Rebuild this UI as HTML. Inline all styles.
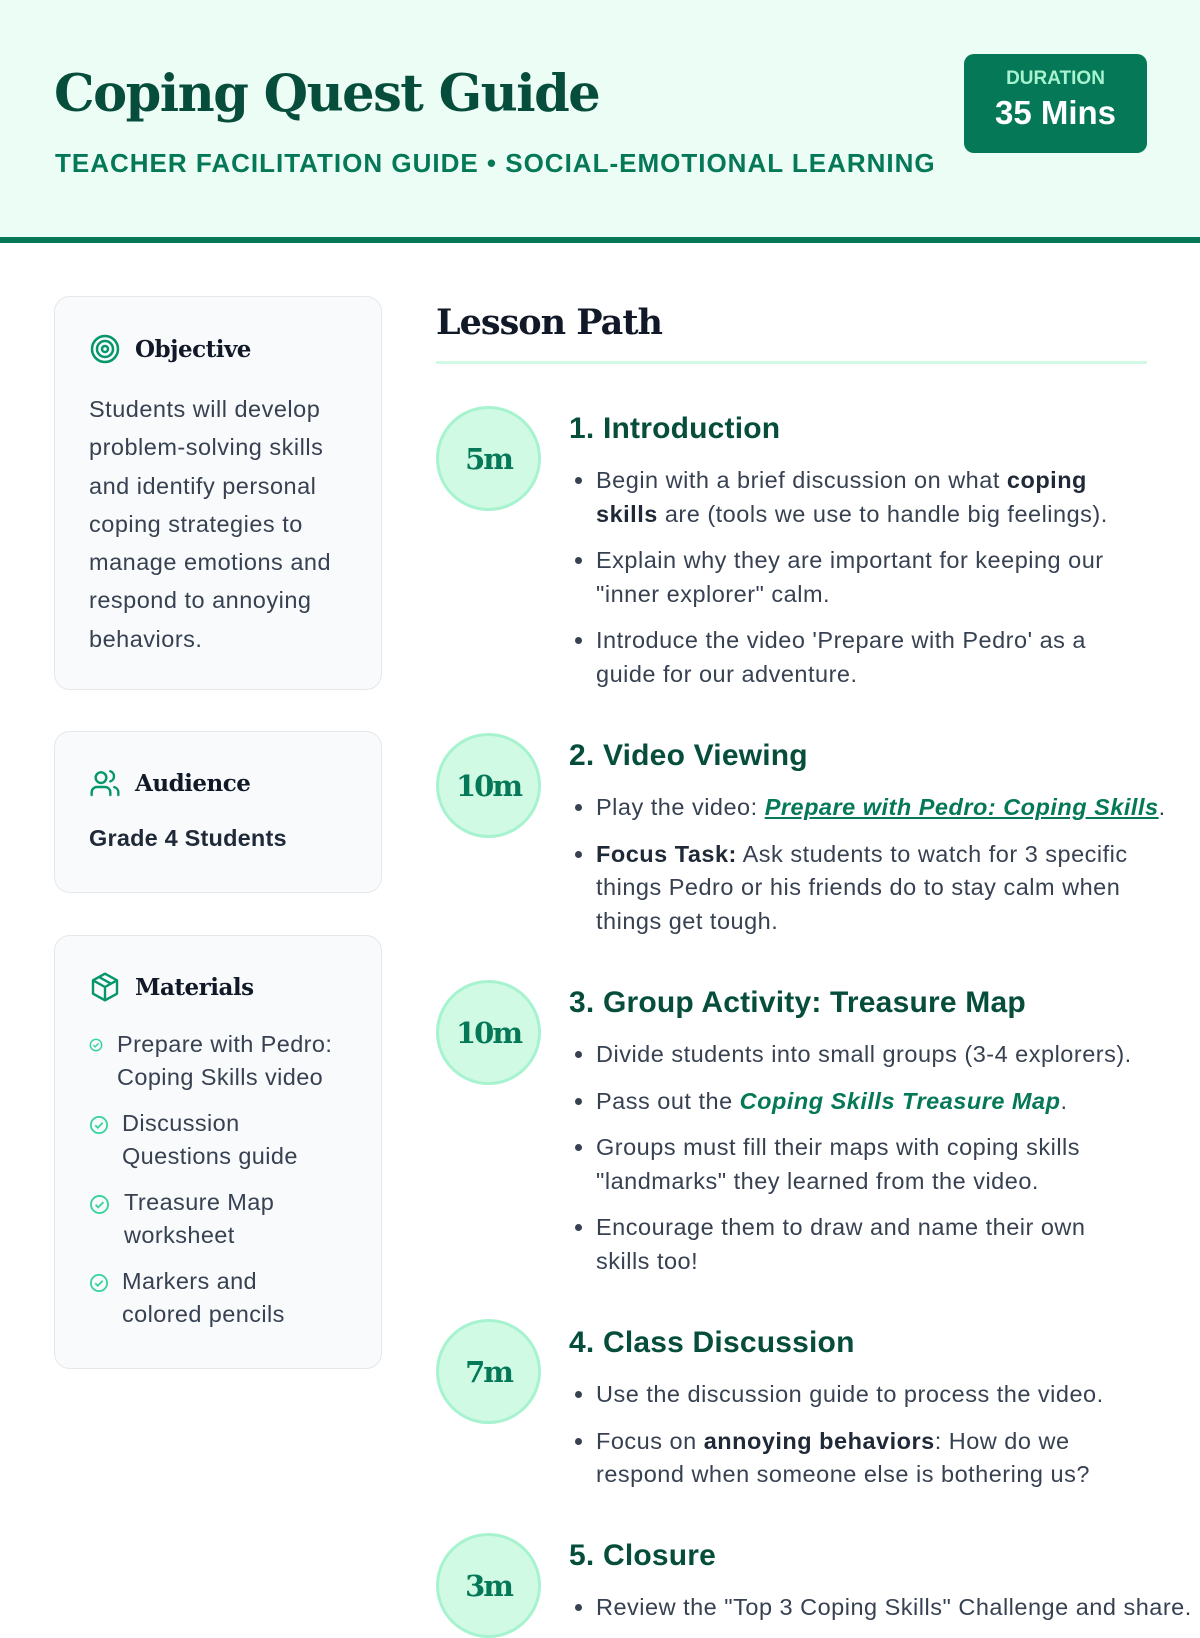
<!DOCTYPE html>
<html><head><meta charset="utf-8"><style>
*{margin:0;padding:0;box-sizing:border-box}
body{width:1200px;height:1600px;overflow:hidden;background:#fff;font-family:"Liberation Sans",sans-serif;color:#374151;position:relative}
.hdr{position:absolute;left:0;top:0;width:1200px;height:243px;background:#ecfdf5;border-bottom:6px solid #047857}
.title{position:absolute;left:54px;top:64px;font-family:"DejaVu Serif","Liberation Serif",serif;font-weight:bold;font-size:51px;color:#064e3b;letter-spacing:-1.5px}
.sub{position:absolute;left:55px;top:148px;font-size:26px;font-weight:bold;color:#047857;letter-spacing:1px}
.dur{position:absolute;left:964px;top:54px;width:183px;height:99px;background:#047857;border-radius:10px;text-align:center;color:#fff}
.dur .l{font-size:19px;font-weight:bold;color:#a7f3d0;margin-top:14px}
.dur .v{font-size:33px;font-weight:bold;margin-top:4px}
.card{position:absolute;left:54px;width:328px;background:#f8fafc;border:1.5px solid #e5e7eb;border-radius:16px}
.ch{position:absolute;left:34px;font-family:"DejaVu Serif","Liberation Serif",serif;font-weight:bold;font-size:23px;color:#111827;display:flex;align-items:center;gap:14px;letter-spacing:-0.5px}
.ch svg{flex:none}
.ctext{position:absolute;left:34px;font-size:23.5px;letter-spacing:0.5px;line-height:38.3px;color:#374151;white-space:nowrap}
.mat{position:absolute;left:34px;font-size:23.5px;letter-spacing:0.4px;line-height:33px;color:#374151;white-space:nowrap}
.mat div{position:relative;margin-bottom:13px}
.mat svg{position:absolute;left:0;top:8px}
.lp{position:absolute;left:436px;top:302px;font-family:"DejaVu Serif","Liberation Serif",serif;font-weight:bold;font-size:35px;color:#111827;letter-spacing:-1px}
.lpline{position:absolute;left:436px;top:361px;width:711px;height:3px;background:#d1fae5}
.circ{position:absolute;left:436px;width:105px;height:105px;border-radius:50%;background:#d1fae5;border:3px solid #a7f3d0;color:#047857;font-family:"DejaVu Serif","Liberation Serif",serif;font-weight:bold;font-size:29px;display:flex;align-items:center;justify-content:center;letter-spacing:-2px}
.st{position:absolute;left:569px;width:620px}
.st h3{font-size:30px;font-weight:bold;color:#064e3b;line-height:34px;margin-top:2px;letter-spacing:0.2px}
.st ul{margin-top:18px;padding-left:27px;font-size:23.5px;letter-spacing:0.5px;line-height:33.5px;white-space:nowrap}
.st li{margin-bottom:13px}
b{color:#1f2937}
a{color:#047857;font-style:italic;font-weight:bold;text-decoration:underline}
.it{color:#047857;font-style:italic;font-weight:bold}
</style></head><body>
<div class="hdr">
<div class="title">Coping Quest Guide</div>
<div class="sub">TEACHER FACILITATION GUIDE • SOCIAL-EMOTIONAL LEARNING</div>
<div class="dur"><div class="l">DURATION</div><div class="v">35 Mins</div></div>
</div>

<div class="card" style="top:296px;height:394px">
<div class="ch" style="top:36px"><svg width="32" height="32" viewBox="0 0 32 32" fill="none" stroke="#059669" stroke-width="2.5"><circle cx="16" cy="16" r="13"/><circle cx="16" cy="16" r="8"/><circle cx="16" cy="16" r="3"/></svg>Objective</div>
<div class="ctext" style="top:93px">Students will develop<br>problem-solving skills<br>and identify personal<br>coping strategies to<br>manage emotions and<br>respond to annoying<br>behaviors.</div>
</div>

<div class="card" style="top:731px;height:162px">
<div class="ch" style="top:35px"><svg width="32" height="32" viewBox="0 0 24 24" fill="none" stroke="#059669" stroke-width="1.8" stroke-linecap="round"><circle cx="9" cy="8" r="4"/><path d="M2 21v-2a4 4 0 0 1 4-4h6a4 4 0 0 1 4 4v2"/><path d="M16 3.2a4 4 0 0 1 0 7.6"/><path d="M22 21v-2a4 4 0 0 0-3-3.9"/></svg>Audience</div>
<div class="ctext" style="top:87px;font-weight:bold;color:#1f2937;letter-spacing:0.2px">Grade 4 Students</div>
</div>

<div class="card" style="top:935px;height:434px">
<div class="ch" style="top:35px"><svg width="32" height="32" viewBox="0 0 24 24" fill="none" stroke="#059669" stroke-width="1.8" stroke-linejoin="round"><path d="M12 2 21 7v10l-9 5-9-5V7z"/><path d="M3 7l9 5 9-5M12 12v10M7.5 4.5l9 5"/></svg>Materials</div>
<div class="mat" style="top:92px">
<div style="padding-left:28px"><svg width="14" height="14" viewBox="0 0 16 16" fill="none" stroke="#34d399" stroke-width="1.6" style="top:10px"><circle cx="8" cy="8" r="6.5"/><path d="M5 8.2l2 2 4-4"/></svg>Prepare with Pedro:<br>Coping Skills video</div>
<div style="padding-left:33px"><svg width="20" height="20" viewBox="0 0 16 16" fill="none" stroke="#34d399" stroke-width="1.4"><circle cx="8" cy="8" r="6.5"/><path d="M5 8.2l2 2 4-4"/></svg>Discussion<br>Questions guide</div>
<div style="padding-left:35px"><svg width="21" height="21" viewBox="0 0 16 16" fill="none" stroke="#34d399" stroke-width="1.4"><circle cx="8" cy="8" r="6.5"/><path d="M5 8.2l2 2 4-4"/></svg>Treasure Map<br>worksheet</div>
<div style="padding-left:33px"><svg width="20" height="20" viewBox="0 0 16 16" fill="none" stroke="#34d399" stroke-width="1.4"><circle cx="8" cy="8" r="6.5"/><path d="M5 8.2l2 2 4-4"/></svg>Markers and<br>colored pencils</div>
</div>
</div>

<div class="lp">Lesson Path</div>
<div class="lpline"></div>

<div class="circ" style="top:406px">5m</div>
<div class="st" style="top:410px"><h3>1. Introduction</h3><ul>
<li>Begin with a brief discussion on what <b>coping</b><br><b>skills</b> are (tools we use to handle big feelings).</li>
<li>Explain why they are important for keeping our<br>"inner explorer" calm.</li>
<li>Introduce the video 'Prepare with Pedro' as a<br>guide for our adventure.</li></ul></div>

<div class="circ" style="top:733px">10m</div>
<div class="st" style="top:737px"><h3>2. Video Viewing</h3><ul>
<li>Play the video: <a>Prepare with Pedro: Coping Skills</a>.</li>
<li><b>Focus Task:</b> Ask students to watch for 3 specific<br>things Pedro or his friends do to stay calm when<br>things get tough.</li></ul></div>

<div class="circ" style="top:980px">10m</div>
<div class="st" style="top:984px"><h3>3. Group Activity: Treasure Map</h3><ul>
<li>Divide students into small groups (3-4 explorers).</li>
<li>Pass out the <span class="it">Coping Skills Treasure Map</span>.</li>
<li>Groups must fill their maps with coping skills<br>"landmarks" they learned from the video.</li>
<li>Encourage them to draw and name their own<br>skills too!</li></ul></div>

<div class="circ" style="top:1319px">7m</div>
<div class="st" style="top:1324px"><h3>4. Class Discussion</h3><ul>
<li>Use the discussion guide to process the video.</li>
<li>Focus on <b>annoying behaviors</b>: How do we<br>respond when someone else is bothering us?</li></ul></div>

<div class="circ" style="top:1533px">3m</div>
<div class="st" style="top:1537px"><h3>5. Closure</h3><ul>
<li>Review the "Top 3 Coping Skills" Challenge and share.</li></ul></div>
</body></html>
